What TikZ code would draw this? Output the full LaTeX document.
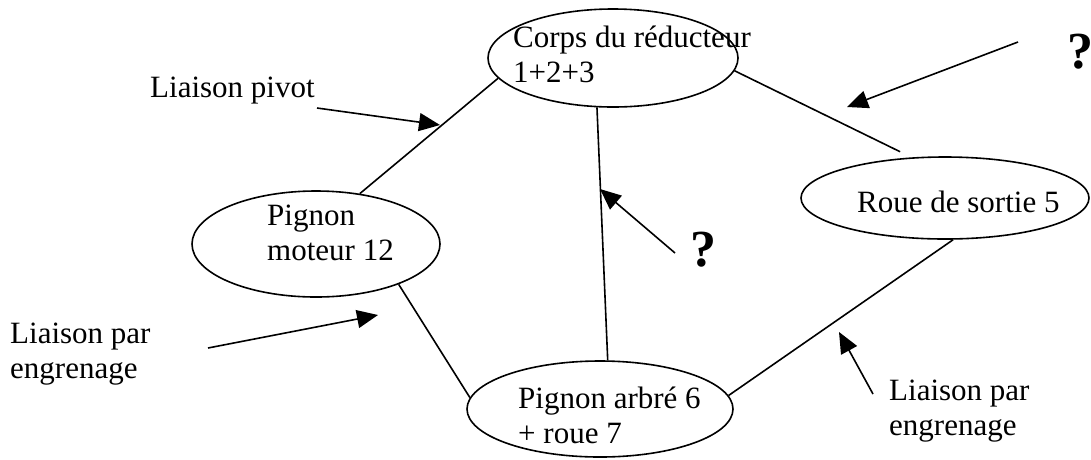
\documentclass[tikz,border=0pt]{standalone}
\usepackage{fontspec}
\setmainfont{Liberation Serif}
\usetikzlibrary{arrows.meta,shapes.geometric}
\begin{document}
\begin{tikzpicture}[x=1pt,y=-1pt,
  part/.style={draw,ellipse,line width=1.6pt,inner sep=0pt},
  txt/.style={anchor=base west,inner sep=0pt,font=\fontsize{31}{35}\selectfont},
  qmark/.style={anchor=base,inner sep=0pt,font=\fontsize{52}{60}\selectfont\bfseries},
  link/.style={line width=1.6pt},
  pointer/.style={line width=1.6pt,-{Triangle[length=21pt,width=18pt]}}]
\useasboundingbox (0,0) rectangle (1091,459);
% parts
\node[part,minimum width=250pt,minimum height=98pt] (corps) at (613,58) {};
\node[part,minimum width=248pt,minimum height=106pt] (moteur) at (316,244) {};
\node[part,minimum width=266pt,minimum height=96pt] (arbre) at (600,409) {};
\node[part,minimum width=288pt,minimum height=82pt] (roue) at (945,198) {};
% texts in parts
\node[txt] (corpsA) at (513,47) {Corps du réducteur};
\node[txt] (corpsB) at (513,82) {1+2+3};
\node[txt] (moteurA) at (267,225) {Pignon};
\node[txt] (moteurB) at (267,260) {moteur 12};
\node[txt] (arbreA) at (518,408) {Pignon arbré 6};
\node[txt] (arbreB) at (518,443) {+ roue 7};
\node[txt] (roueA) at (857,212) {Roue de sortie 5};
% links
\draw[link] (corps.190) -- (moteur.49);
\draw[link] (corps.354) -- ([shift={(-6,-6)}]roue.134);
\draw[link] (corps.252) -- (arbre.81);
\draw[link] (moteur.334) -- (arbre.175);
\draw[link] (arbre.6) -- (roue.281);
% annotations
\node[txt] (pivot) at (150,97) {Liaison pivot};
\node[txt] (engA) at (10,343) {Liaison par};
\node[txt] (engB) at (10,378) {engrenage};
\node[txt] (engC) at (889,400) {Liaison par};
\node[txt] (engD) at (889,435) {engrenage};
\node[qmark] (q1) at (1080,68) {?};
\node[qmark] (q2) at (703,266) {?};
% pointer arrows
\coordinate (p1s) at (317,108); \coordinate (p1e) at (440,125);
\coordinate (p2s) at (1018,42); \coordinate (p2e) at (847,107);
\coordinate (p3s) at (675,253); \coordinate (p3e) at (600,189);
\coordinate (p4s) at (208,348); \coordinate (p4e) at (378,315);
\coordinate (p5s) at (873,394); \coordinate (p5e) at (839,332);
\draw[pointer] (p1s) -- (p1e);
\draw[pointer] (p2s) -- (p2e);
\draw[pointer] (p3s) -- (p3e);
\draw[pointer] (p4s) -- (p4e);
\draw[pointer] (p5s) -- (p5e);
\end{tikzpicture}
\end{document}
